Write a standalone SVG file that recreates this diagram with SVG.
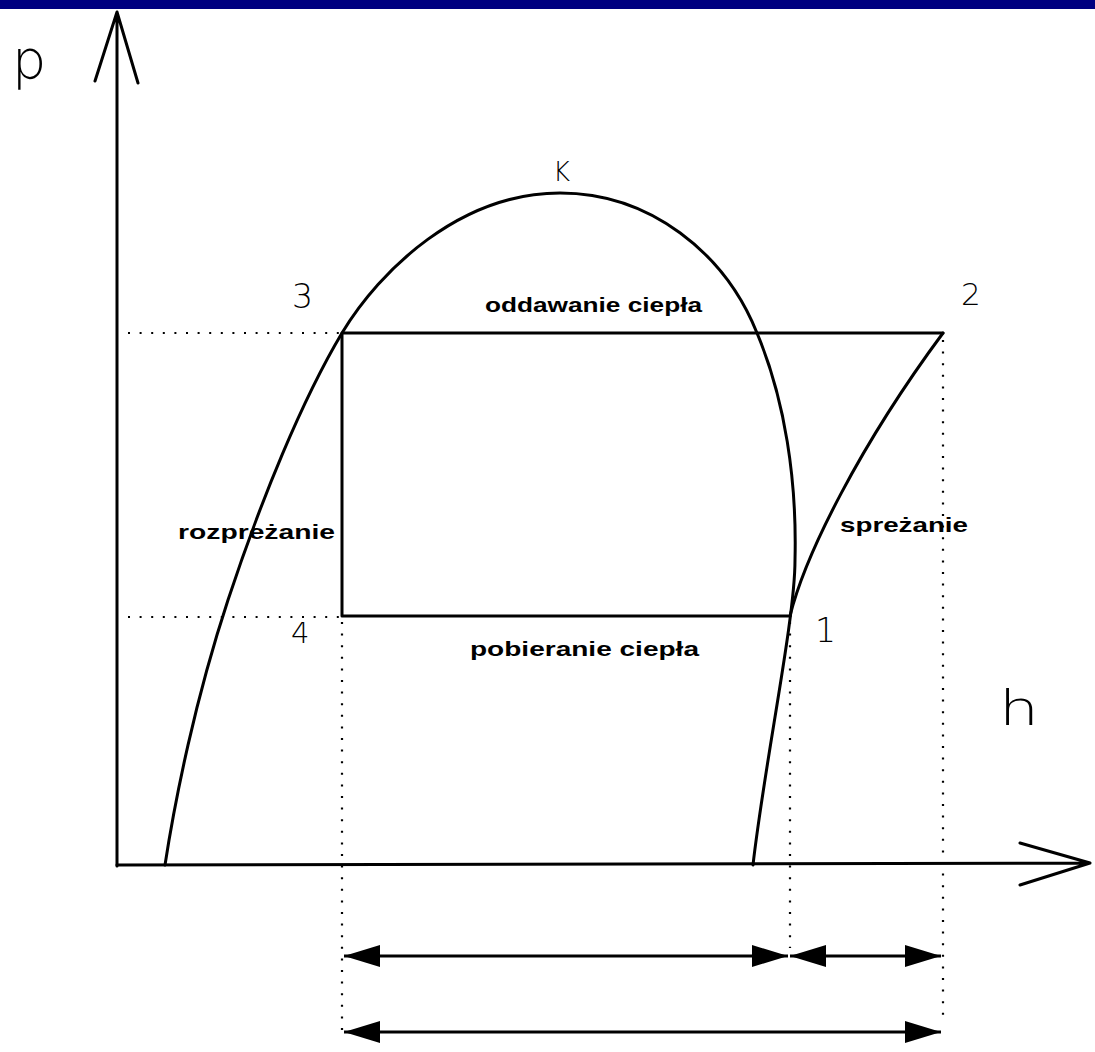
<svg xmlns="http://www.w3.org/2000/svg" width="1095" height="1052" viewBox="0 0 1095 1052">
<style>
.ln{fill:none;stroke:#000;stroke-width:3;stroke-linejoin:round;stroke-linecap:round}
.dot{fill:none;stroke:#000;stroke-width:2.2;stroke-dasharray:2 9.6}
.big{font-family:"DejaVu Sans","Liberation Sans",sans-serif;font-weight:200;fill:#000}
.lbl{font-family:"Liberation Sans",Arial,sans-serif;font-weight:bold;font-size:21px;fill:#000}
.dim{fill:none;stroke:#000;stroke-width:3}
</style>
<defs>
<marker id="ah" viewBox="0 0 36 22" markerUnits="userSpaceOnUse" markerWidth="36" markerHeight="22" refX="36" refY="11" orient="auto-start-reverse">
<path d="M0,0 L36,11 L0,22 z" fill="#000"/>
</marker>
</defs>
<rect width="1095" height="1052" fill="#fff"/>
<rect id="topbar" x="0" y="0" width="1095" height="9" fill="#000080"/>

<g id="axes">
<path class="ln" d="M117,866 L117,12 M95,81 L117,12 L138,83"/>
<path class="ln" d="M117,865 L1090,863 M1020,843 L1090,863 L1020,885"/>
<text class="big" x="12" y="78" font-size="54">p</text>
<text class="big" x="999" y="725" font-size="48" textLength="40" lengthAdjust="spacingAndGlyphs">h</text>
</g>

<g id="dome">
<path class="ln" d="M165,865 C175,800 195,700 228,600 C261,500 302,400 342,333 C380,270 460,193 560,193 C650,193 725,253 757,333 C785,400 797,480 795,560 C795,620 765,760 753,865"/>
<text class="big" x="553" y="181" font-size="26">K</text>
</g>

<g id="compression">
<path class="ln" d="M790,616 C805,555 860,445 943,333"/>
</g>

<g id="cycle">
<path class="ln" d="M342,616 L342,333 L943,333 M342,616 L790,616"/>
</g>

<g id="dotted">
<path class="dot" d="M128,333 L342,333 M128,617 L342,617 M342,622 L342,1030 M790,622 L790,948 M943,340 L943,1020"/>
</g>

<g id="point1"><text class="big" x="815" y="642" font-size="33">1</text></g>
<g id="point2"><text class="big" x="961" y="305" font-size="31">2</text></g>
<g id="point3"><text class="big" x="292" y="308" font-size="33">3</text></g>
<g id="point4"><text class="big" x="291" y="643" font-size="29">4</text></g>

<g id="labels">
<text class="lbl" x="485" y="312" textLength="217" lengthAdjust="spacingAndGlyphs">oddawanie ciepła</text>
<text class="lbl" x="470" y="656" textLength="229" lengthAdjust="spacingAndGlyphs">pobieranie ciepła</text>
<text class="lbl" x="178" y="539" textLength="157" lengthAdjust="spacingAndGlyphs">rozpreżanie</text>
<text class="lbl" x="840" y="532" textLength="128" lengthAdjust="spacingAndGlyphs">spreżanie</text>
</g>

<g id="connectors">
<line class="dim" x1="344" y1="956" x2="788" y2="956" marker-start="url(#ah)" marker-end="url(#ah)"/>
<line class="dim" x1="790" y1="956" x2="941" y2="956" marker-start="url(#ah)" marker-end="url(#ah)"/>
<line class="dim" x1="344" y1="1032" x2="941" y2="1032" marker-start="url(#ah)" marker-end="url(#ah)"/>
</g>
</svg>
